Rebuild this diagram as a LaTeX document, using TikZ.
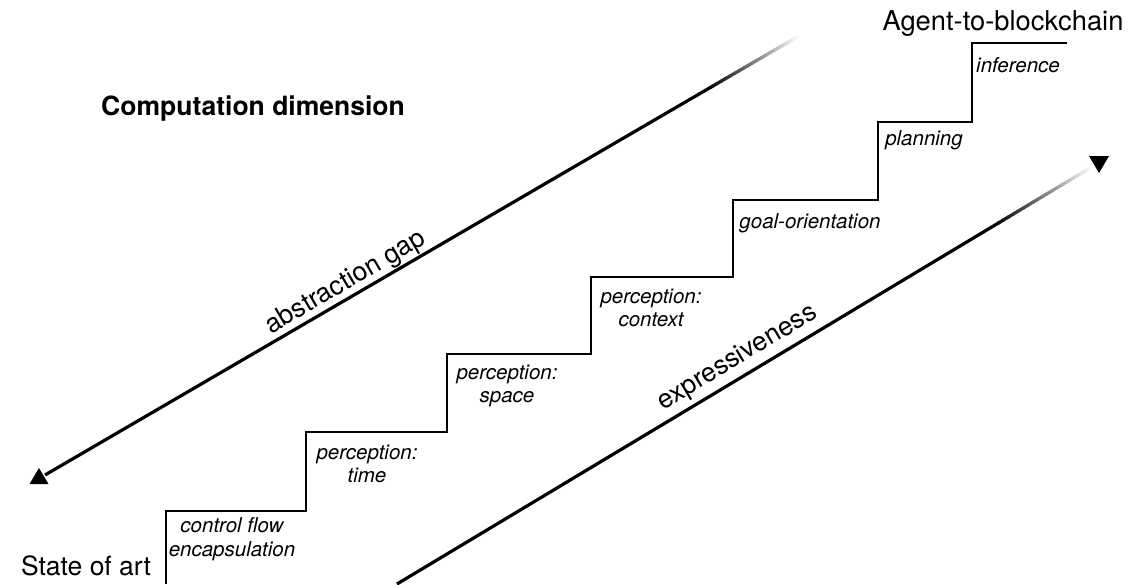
\documentclass[tikz,border=0pt]{standalone}
\usepackage{fontspec}
\setmainfont{TeX Gyre Heros}
\usetikzlibrary{calc}
\tikzset{
  bigtext/.style={font=\fontsize{26.5}{31}\selectfont, inner sep=0pt},
  steplabel/.style={font=\fontsize{20.5}{23.5}\selectfont\itshape, align=center, inner sep=0pt},
  stair/.style={line width=2pt, line join=miter},
  gapline/.style={line width=3.2pt},
  headfill/.style={fill=black},
}
\newcommand\myfadeline[3]{%
  \draw[gapline] (#1) -- ($(#1)!#3!(#2)$);
  \foreach \i in {0,...,19} {
    \pgfmathsetmacro\ta{#3+(1-#3)*\i/20}
    \pgfmathsetmacro\tb{min(1,#3+(1-#3)*(\i+1.4)/20)}
    \pgfmathtruncatemacro\fc{100-5*\i}
    \draw[gapline, black!\fc] ($(#1)!\ta!(#2)$) -- ($(#1)!\tb!(#2)$);
  }%
}
\begin{document}
\begin{tikzpicture}[x=1pt,y=-1pt]
\useasboundingbox (0,0) rectangle (1131,584);

% arrow ends
\coordinate (gapA) at (45,475);
\coordinate (gapB) at (797,37);
\coordinate (expA) at (397,584);
\coordinate (expB) at (1090,168);
\coordinate (hA) at (39,476);
\coordinate (hB) at (1099,164);

% fading lines
\myfadeline{gapA}{gapB}{0.88}
\myfadeline{expA}{expB}{0.86}

% arrow heads
\fill[headfill] ([shift={(0,-8)}]hA) -- ([shift={(-9.5,8)}]hA) -- ([shift={(9.5,8)}]hA) -- cycle;
\fill[headfill] ([shift={(0,9)}]hB) -- ([shift={(-10,-8)}]hB) -- ([shift={(10,-8)}]hB) -- cycle;

% line labels
\path (gapA) -- (gapB) node[bigtext, pos=0.41, sloped, above=2pt] (gaplbl) {abstraction gap};
\path (expA) -- (expB) node[bigtext, pos=0.505, sloped, above=6pt] (explbl) {expressiveness};

% staircase
\draw[stair] (166,584) -- (166,511) -- (306,511) -- (306,432) -- (447,432) -- (447,354)
  -- (591,354) -- (591,277) -- (733,277) -- (733,200) -- (878,200) -- (878,122)
  -- (972,122) -- (972,43) -- (1067,43);

% step labels
\node[steplabel] (s1) at (232,539) {control flow\\encapsulation};
\node[steplabel] (s2) at (367,464) {perception:\\time};
\node[steplabel] (s3) at (507,386) {perception:\\space};
\node[steplabel] (s4) at (651,308) {perception:\\context};
\node[steplabel] (s5) at (810,223) {goal-orientation};
\node[steplabel] (s6) at (924,140) {planning};
\node[steplabel] (s7) at (1018,65) {inference};

% titles
\node[bigtext, font=\fontsize{26.5}{31}\selectfont\bfseries, anchor=base] (title) at (253,115) {Computation dimension};
\node[bigtext, anchor=base] (start) at (86,575) {State of art};
\node[bigtext, font=\fontsize{27.3}{31}\selectfont, anchor=base] (goal) at (1003,30) {Agent-to-blockchain};
\end{tikzpicture}
\end{document}
